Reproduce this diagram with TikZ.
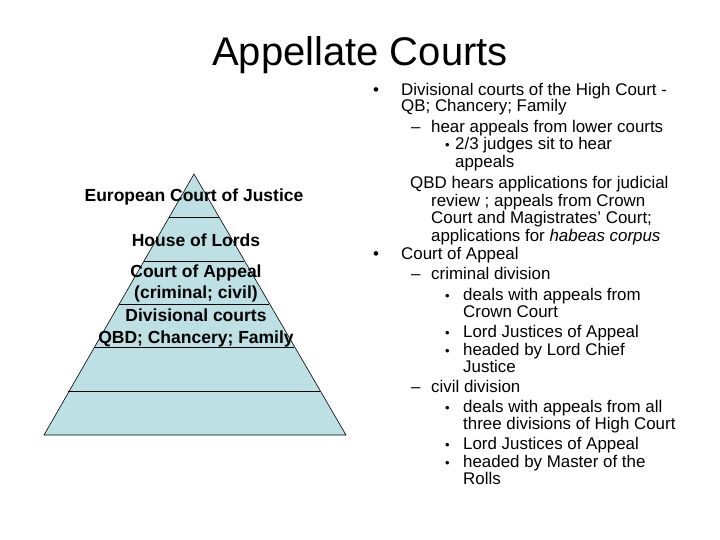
\documentclass[tikz,border=0pt]{standalone}
\usepackage{fontspec}
\setmainfont{Liberation Sans}
\begin{document}
\begin{tikzpicture}[x=1pt,y=-1pt,
  tx/.style={anchor=base west,inner sep=0pt,font=\fontsize{16.9}{17}\selectfont},
  sb/.style={anchor=base west,inner sep=0pt,font=\fontsize{13}{13}\selectfont},
  pl/.style={anchor=base,inner sep=0pt,font=\fontsize{17.5}{18}\selectfont\bfseries},
  dv/.style={draw=black,line width=0.6pt}]
\useasboundingbox (0,0) rectangle (720,540);
\fill[white] (0,0) rectangle (720,540);
\node[inner sep=0pt,anchor=base,font=\fontsize{40}{40}\selectfont] (title) at (360,66) {Appellate Courts};
% pyramid
\coordinate (apex) at (194,174);
\coordinate (bl) at (44,435);
\coordinate (br) at (346,435);
\filldraw[fill={rgb,255:red,188;green,224;blue,228},draw=black,line width=0.6pt] (apex) -- (br) -- (bl) -- cycle;
\foreach \y/\n in {217/a,261/b,304/c,347/d,391/e}{
  \pgfmathsetmacro\d{(\y-174)/261*151}
  \coordinate (l\n) at (194-\d,\y);
  \coordinate (r\n) at (194+\d,\y);
  \draw[dv] (l\n) -- (r\n);
}
\node[pl] (p1) at (194,202) {European Court of Justice};
\node[pl] (p2) at (196,246) {House of Lords};
\node[pl] (p3) at (196,277) {Court of Appeal};
\node[pl] (p4) at (196,298) {(criminal; civil)};
\node[pl] (p5) at (196,321) {Divisional courts};
\node[pl] (p6) at (196,343) {QBD; Chancery; Family};
% right text
\node[tx] (b1) at (373,96) {\textbullet};
\node[tx] (t1) at (401,96) {Divisional courts of the High Court -};
\node[tx] (t2) at (401,112) {QB; Chancery; Family};
\node[tx] (d1) at (411,133) {--};
\node[tx] (t3) at (431,133) {hear appeals from lower courts};
\node[sb] (s1) at (445,150) {\textbullet};
\node[tx] (t4) at (455,150) {2/3 judges sit to hear};
\node[tx] (t5) at (455,168) {appeals};
\node[tx] (t6) at (410,189) {QBD hears applications for judicial};
\node[tx] (t7) at (431,207) {review ; appeals from Crown};
\node[tx] (t8) at (431,224) {Court and Magistrates’ Court;};
\node[tx] (t9) at (431,241) {applications for \textit{habeas corpus}};
\node[tx] (b2) at (373,259) {\textbullet};
\node[tx] (t10) at (401,259) {Court of Appeal};
\node[tx] (d2) at (411,279) {--};
\node[tx] (t11) at (431,279) {criminal division};
\node[sb] (s2) at (445,300) {\textbullet};
\node[tx] (t12) at (463,300) {deals with appeals from};
\node[tx] (t13) at (463,317) {Crown Court};
\node[sb] (s3) at (445,337) {\textbullet};
\node[tx] (t14) at (463,337) {Lord Justices of Appeal};
\node[sb] (s4) at (445,355) {\textbullet};
\node[tx] (t15) at (463,355) {headed by Lord Chief};
\node[tx] (t16) at (463,372) {Justice};
\node[tx] (d3) at (411,392) {--};
\node[tx] (t17) at (431,392) {civil division};
\node[sb] (s5) at (445,412) {\textbullet};
\node[tx] (t18) at (463,412) {deals with appeals from all};
\node[tx] (t19) at (463,429) {three divisions of High Court};
\node[sb] (s6) at (445,449) {\textbullet};
\node[tx] (t20) at (463,449) {Lord Justices of Appeal};
\node[sb] (s7) at (445,467) {\textbullet};
\node[tx] (t21) at (463,467) {headed by Master of the};
\node[tx] (t22) at (463,484) {Rolls};
\end{tikzpicture}
\end{document}
